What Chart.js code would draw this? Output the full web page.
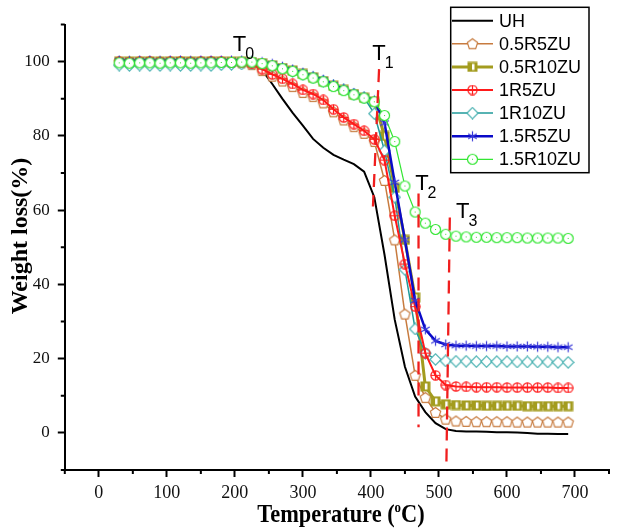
<!DOCTYPE html>
<html>
<head>
<meta charset="utf-8">
<script src="https://cdn.jsdelivr.net/npm/chart.js@4/dist/chart.umd.min.js"></script>
<style>
  html, body { margin: 0; padding: 0; background: #fff; }
  canvas { display: block; }
</style>
</head>
<body>
<canvas id="tga" width="617" height="528"></canvas>
<script>
// TGA curves, weight (%) vs temperature (C)
const temps = [30, 45, 60, 75, 90, 105, 120, 135, 150, 165, 180, 195, 210, 225, 240, 255, 270, 285, 300, 315,
  330, 345, 360, 375, 390, 405, 420, 435, 450, 465, 480, 495, 510, 525, 540, 555, 570, 585, 600, 615,
  630, 645, 660, 675, 690];

const uh = [100.1, 100.1, 100.0, 100.0, 100.0, 100.0, 100.0, 100.0, 100.0, 100.0, 99.9, 99.8, 99.6,
  99.2, 97.8, 94.0, 90.0, 86.2, 82.8, 79.2, 76.8, 74.9, 73.6, 72.4, 70.4, 63.5, 48.0, 30.5, 17.8, 9.8,
  5.6, 2.6, 1.0, 0.5, 0.4, 0.4, 0.3, 0.2, 0.2, 0.1, 0.0, -0.2, -0.2, -0.3, -0.3];

const r05_5 = [100.0, 100.0, 99.9, 100.0, 100.0, 99.9, 100.0, 100.0, 99.9, 100.0, 99.9, 99.8, 99.7,
  99.2, 97.6, 96.1, 94.8, 93.3, 91.7, 90.6, 88.9, 86.5, 84.3, 82.5, 80.7, 78.5, 68.0, 52.0, 32.0, 15.5,
  9.5, 5.5, 3.7, 3.2, 3.1, 3.0, 3.0, 3.0, 3.0, 2.9, 2.9, 2.9, 2.9, 2.9, 2.9];

const r05_10 = [100.0, 100.0, 100.0, 100.1, 100.0, 100.0, 100.1, 100.0, 100.0, 100.1, 100.0, 100.0, 100.0,
  99.9, 99.6, 99.0, 98.3, 97.6, 96.7, 95.8, 94.8, 93.5, 92.4, 91.3, 90.3, 89.2, 80.0, 66.0, 52.0, 36.5,
  12.5, 8.5, 7.7, 7.5, 7.4, 7.4, 7.3, 7.3, 7.3, 7.3, 7.2, 7.2, 7.2, 7.2, 7.2];

const r1_5 = [100.0, 99.9, 100.0, 100.0, 99.9, 100.0, 100.0, 99.9, 100.0, 100.0, 100.0, 99.9, 99.8,
  99.4, 98.0, 96.6, 95.4, 94.0, 92.4, 91.3, 89.7, 87.2, 85.0, 83.2, 81.4, 79.1, 73.5, 58.5, 45.5, 34.0,
  21.5, 15.5, 12.9, 12.5, 12.4, 12.3, 12.3, 12.3, 12.2, 12.2, 12.2, 12.2, 12.2, 12.1, 12.1];

const r1_10 = [99.1, 99.0, 99.1, 99.0, 99.0, 99.1, 99.0, 99.0, 99.1, 99.0, 99.2, 99.3, 99.4,
  99.5, 99.3, 98.8, 98.1, 97.4, 96.6, 95.7, 94.8, 93.5, 92.4, 91.3, 90.3, 86.0, 76.0, 63.5, 44.0, 28.0,
  21.5, 19.8, 19.4, 19.3, 19.3, 19.2, 19.2, 19.2, 19.2, 19.1, 19.1, 19.1, 19.1, 19.0, 19.0];

const r15_5 = [100.3, 100.2, 100.3, 100.3, 100.2, 100.3, 100.3, 100.2, 100.3, 100.3, 100.3, 100.3, 100.3,
  100.2, 99.9, 99.4, 98.6, 97.9, 97.0, 96.1, 95.1, 93.8, 92.6, 91.5, 90.5, 89.6, 83.5, 67.5, 52.0, 35.7,
  27.9, 24.8, 23.8, 23.5, 23.5, 23.4, 23.4, 23.4, 23.3, 23.3, 23.3, 23.2, 23.2, 23.1, 23.1];

const r15_10 = [99.7, 99.6, 99.7, 99.7, 99.6, 99.7, 99.7, 99.6, 99.7, 99.7, 99.8, 99.8, 99.9,
  99.9, 99.5, 98.9, 98.1, 97.4, 96.5, 95.6, 94.6, 93.3, 92.2, 91.1, 90.2, 89.2, 85.5, 78.5, 66.5, 59.5,
  56.5, 54.8, 53.5, 53.0, 52.8, 52.7, 52.7, 52.6, 52.6, 52.6, 52.5, 52.5, 52.5, 52.5, 52.4];

// red dashed guide lines T1..T3 (end points, data units)
const t1X = [412, 403], t1Y = [98, 61];
const t2X = [470, 470], t2Y = [64.5, 1.5];
const t3X = [516, 511], t3Y = [58, -8];

// T0..T3 text anchors (left edge, baseline)
const tNames = ['0', '1', '2', '3'];
const tLabX = [197, 402, 465, 525];
const tLabY = [103, 100.4, 65.4, 57.8];

// axis ticks
const xMajor = [0, 100, 200, 300, 400, 500, 600, 700];
const xMinor = [-50, 50, 150, 250, 350, 450, 550, 650, 750];
const yMajor = [0, 20, 40, 60, 80, 100];
const yMinor = [-10, 10, 30, 50, 70, 90, 110];

const SERIF = '"Liberation Serif", "Times New Roman", serif';
const SANS = '"Liberation Sans", Arial, sans-serif';

// --- marker images (Origin-like symbols) ---
function mk(size, draw) {
  const c = document.createElement('canvas');
  c.width = size; c.height = size;
  const g = c.getContext('2d');
  draw(g, size / 2);
  return c;
}

const pentagon = col => mk(13, (g, c) => {
  g.beginPath();
  for (let k = 0; k < 5; k++) {
    const a = -Math.PI / 2 + k * 2 * Math.PI / 5;
    const px = c + 5.4 * Math.cos(a), py = c + 0.5 + 5.4 * Math.sin(a);
    k ? g.lineTo(px, py) : g.moveTo(px, py);
  }
  g.closePath();
  g.fillStyle = '#fff'; g.fill();
  g.strokeStyle = col; g.lineWidth = 1.2; g.stroke();
});

const halfSquare = col => mk(11, (g, c) => {
  g.fillStyle = col; g.fillRect(0.5, 0.5, 10, 10);
  g.fillStyle = '#fff'; g.fillRect(5, 2.5, 2.5, 6);
});

const circlePlus = col => mk(11, (g, c) => {
  g.strokeStyle = col; g.lineWidth = 1.2;
  g.beginPath(); g.arc(c, c, 4.6, 0, Math.PI * 2); g.stroke();
  g.beginPath(); g.moveTo(c, c - 4.6); g.lineTo(c, c + 4.6);
  g.moveTo(c - 4.6, c); g.lineTo(c + 4.6, c); g.stroke();
});

const diamond = col => mk(13, (g, c) => {
  g.beginPath();
  g.moveTo(c, c - 5.6); g.lineTo(c + 5.6, c); g.lineTo(c, c + 5.6); g.lineTo(c - 5.6, c);
  g.closePath();
  g.fillStyle = '#fff'; g.fill();
  g.strokeStyle = col; g.lineWidth = 1.2; g.stroke();
});

const asterisk = col => mk(13, (g, c) => {
  g.strokeStyle = col; g.lineWidth = 1.2;
  g.beginPath();
  [90, 30, 150].forEach(d => {
    const a = d * Math.PI / 180;
    g.moveTo(c - 5 * Math.cos(a), c - 5 * Math.sin(a));
    g.lineTo(c + 5 * Math.cos(a), c + 5 * Math.sin(a));
  });
  g.stroke();
});

const hollowCircle = col => mk(13, (g, c) => {
  g.beginPath(); g.arc(c, c, 5, 0, Math.PI * 2);
  g.fillStyle = '#fff'; g.fill();
  g.strokeStyle = col; g.lineWidth = 1.2; g.stroke();
  g.fillStyle = col; g.fillRect(c - 0.5, c - 0.5, 1, 1);
});

const series = [
  { label: 'UH', data: uh, color: '#000000', width: 2, marker: null, order: 7 },
  { label: '0.5R5ZU', data: r05_5, color: '#C77B3F', width: 1.5, marker: pentagon('#C77B3F'), order: 6 },
  { label: '0.5R10ZU', data: r05_10, color: '#A39C1F', width: 3, marker: halfSquare('#A39C1F'), order: 5 },
  { label: '1R5ZU', data: r1_5, color: '#FF1A1A', width: 2, marker: circlePlus('#FF1A1A'), order: 3 },
  { label: '1R10ZU', data: r1_10, color: '#1F9A9A', width: 1.5, marker: diamond('#4DB3B3'), order: 4 },
  { label: '1.5R5ZU', data: r15_5, color: '#0A0AC8', width: 2.5, marker: asterisk('#3535D8'), order: 2 },
  { label: '1.5R10ZU', data: r15_10, color: '#33E633', width: 1.2, marker: hollowCircle('#33E633'), order: 1 }
];

const datasets = series.map(s => ({
  label: s.label,
  data: temps.map((t, i) => ({ x: t, y: s.data[i] })),
  borderColor: s.color,
  backgroundColor: s.color,
  borderWidth: s.width,
  pointStyle: s.marker || 'circle',
  pointRadius: s.marker ? 5 : 0,
  tension: 0,
  order: s.order
}));

[[t1X, t1Y], [t2X, t2Y], [t3X, t3Y]].forEach(([xs, ys]) => {
  datasets.push({
    label: '_guide',
    data: xs.map((v, i) => ({ x: v, y: ys[i] })),
    borderColor: '#F01E1E',
    borderWidth: 2.3,
    borderDash: [13, 8],
    pointRadius: 0,
    order: 0
  });
});

const decorations = {
  id: 'decorations',
  afterDatasetsDraw(chart) {
    const { ctx, chartArea: ca, scales: { x, y } } = chart;
    ctx.save();

    // minor ticks
    ctx.strokeStyle = '#000';
    ctx.lineWidth = 2;
    ctx.beginPath();
    xMinor.forEach(v => {
      const px = x.getPixelForValue(v);
      ctx.moveTo(px, ca.bottom); ctx.lineTo(px, ca.bottom + 4);
    });
    yMinor.forEach(v => {
      const py = y.getPixelForValue(v);
      ctx.moveTo(ca.left - 4, py); ctx.lineTo(ca.left, py);
    });
    ctx.stroke();

    // T labels
    ctx.fillStyle = '#000';
    ctx.textBaseline = 'alphabetic';
    ctx.textAlign = 'left';
    tNames.forEach((n, i) => {
      const px = x.getPixelForValue(tLabX[i]);
      const py = y.getPixelForValue(tLabY[i]);
      ctx.font = '22px ' + SANS;
      ctx.fillText('T', px, py);
      const w = ctx.measureText('T').width;
      ctx.font = '16px ' + SANS;
      ctx.fillText(n, px + w - 1, py + 8);
    });

    // legend
    const lx = 450.7, ly = 7.3, lw = 138.3, lh = 165.4;
    ctx.fillStyle = '#fff';
    ctx.fillRect(lx, ly, lw, lh);
    ctx.strokeStyle = '#000';
    ctx.lineWidth = 1.5;
    ctx.strokeRect(lx, ly, lw, lh);
    ctx.font = '18px ' + SANS;
    ctx.textBaseline = 'middle';
    series.forEach((s, i) => {
      const cy = 20.7 + i * 23.1;
      ctx.strokeStyle = s.color;
      ctx.lineWidth = s.width;
      ctx.beginPath(); ctx.moveTo(452, cy); ctx.lineTo(493, cy); ctx.stroke();
      if (s.marker) ctx.drawImage(s.marker, 472.5 - s.marker.width / 2, cy - s.marker.height / 2);
      ctx.fillStyle = '#000';
      ctx.fillText(s.label, 499, cy + 1);
    });

    // axis titles
    ctx.fillStyle = '#000';
    ctx.textBaseline = 'alphabetic';
    ctx.save();
    ctx.translate(341, 521.5);
    ctx.scale(0.86, 1);
    const a = 'Temperature (', b = 'o', c = 'C)';
    ctx.font = 'bold 26px ' + SERIF;
    const wa = ctx.measureText(a).width, wc = ctx.measureText(c).width;
    ctx.font = 'bold 15px ' + SERIF;
    const wb = ctx.measureText(b).width;
    let cx = -(wa + wb + wc) / 2;
    ctx.font = 'bold 26px ' + SERIF;
    ctx.fillText(a, cx, 0); cx += wa;
    ctx.font = 'bold 15px ' + SERIF;
    ctx.fillText(b, cx, -10); cx += wb;
    ctx.font = 'bold 26px ' + SERIF;
    ctx.fillText(c, cx, 0);
    ctx.restore();

    ctx.save();
    ctx.translate(21, 236);
    ctx.rotate(-Math.PI / 2);
    ctx.font = 'bold 24px ' + SERIF;
    ctx.textAlign = 'center';
    ctx.textBaseline = 'middle';
    ctx.fillText('Weight loss(%)', 0, 0);
    ctx.restore();

    ctx.restore();
  }
};

new Chart(document.getElementById('tga'), {
  type: 'line',
  data: { datasets },
  options: {
    responsive: false,
    devicePixelRatio: 1,
    animation: false,
    layout: { padding: { top: 24.6, right: 0, bottom: 0, left: 0 } },
    plugins: { legend: { display: false }, tooltip: { enabled: false } },
    scales: {
      x: {
        type: 'linear',
        min: -50,
        max: 750,
        afterBuildTicks: s => { s.ticks = xMajor.map(v => ({ value: v })); },
        afterFit: s => { s.height = 58; },
        ticks: { font: { family: SERIF, size: 18 }, color: '#111', padding: 5, maxRotation: 0, autoSkip: false },
        grid: { drawOnChartArea: false, drawTicks: true, tickLength: 7, tickWidth: 2, tickColor: '#000' },
        border: { display: true, color: '#000', width: 2 }
      },
      y: {
        min: -10,
        max: 110,
        afterBuildTicks: s => { s.ticks = yMajor.map(v => ({ value: v })); },
        afterFit: s => { s.width = 64.8; },
        ticks: { font: { family: SERIF, size: 17 }, color: '#111', padding: 8, autoSkip: false },
        grid: { drawOnChartArea: false, drawTicks: true, tickLength: 7, tickWidth: 2, tickColor: '#000' },
        border: { display: true, color: '#000', width: 2 }
      }
    }
  },
  plugins: [decorations]
});
</script>
</body>
</html>
